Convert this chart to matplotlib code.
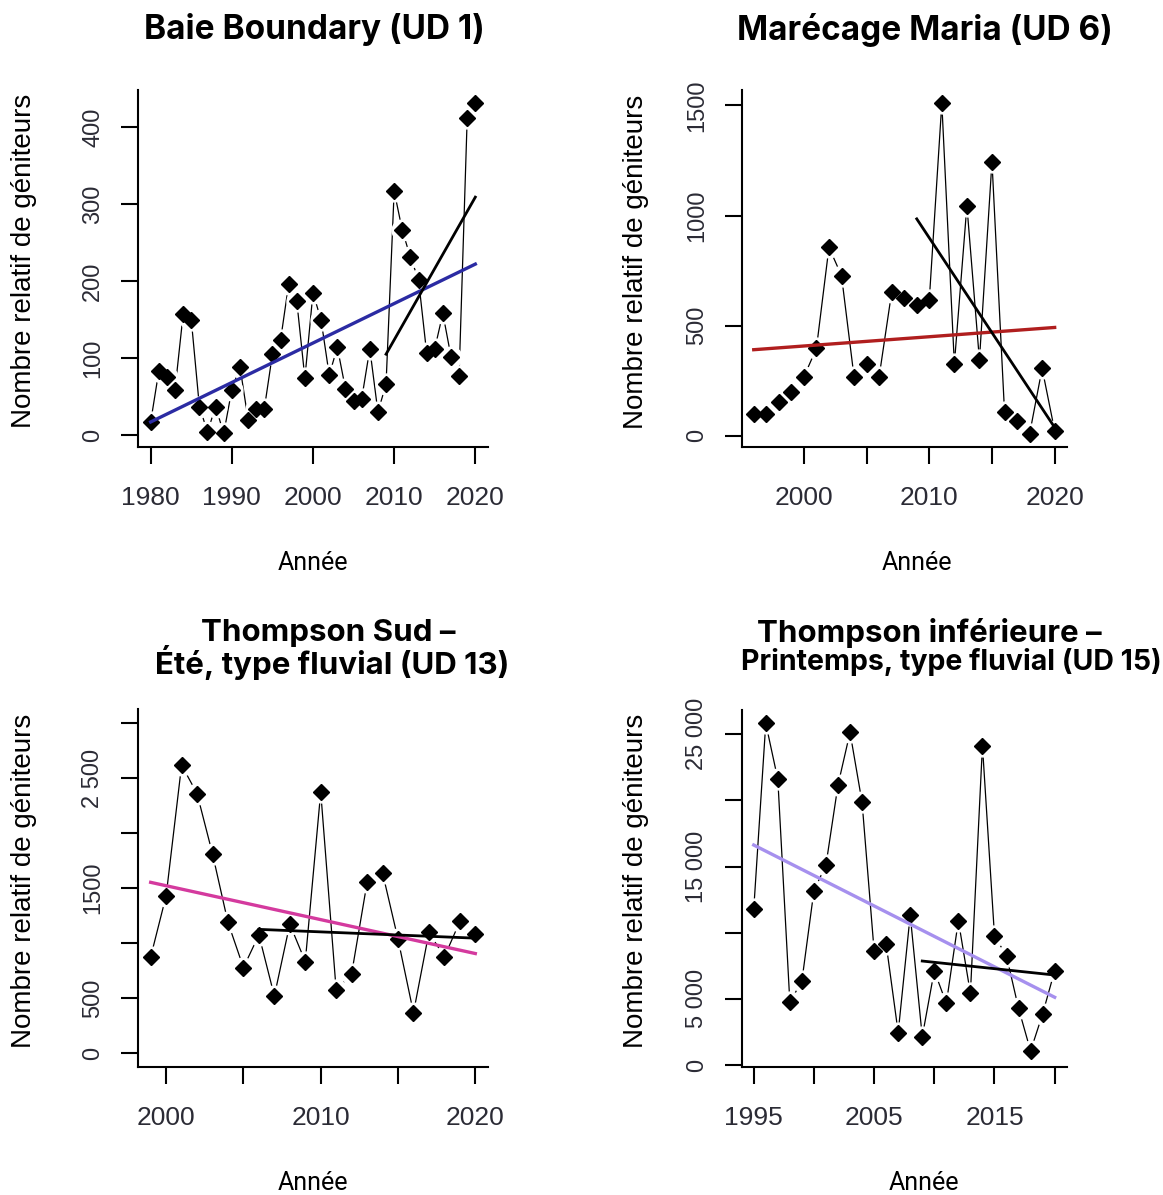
import matplotlib
matplotlib.use("Agg")
import matplotlib.pyplot as plt
import numpy as np

# Baie Boundary (UD 1)
years_ud1 = list(range(1980, 2021))
vals_ud1 = [17, 83, 76, 59, 157, 150, 37, 4, 37, 2, 59, 89, 20, 34, 34, 105, 123,
            196, 174, 74, 185, 149, 78, 114, 60, 44, 47, 112, 30, 66, 317, 266,
            231, 202, 107, 112, 158, 102, 77, 412, 431]
trend_ud1 = ([1980, 2020], [17, 222])
recent_ud1 = ([2009, 2020], [105, 309])

# Marécage Maria (UD 6)
years_ud6 = list(range(1996, 2021))
vals_ud6 = [98, 98, 155, 200, 268, 397, 856, 727, 268, 326, 268, 652, 624, 594,
            617, 1510, 326, 1045, 344, 1245, 110, 68, 8, 306, 23]
trend_ud6 = ([1996, 2020], [391, 492])
recent_ud6 = ([2009, 2020], [985, 38])

# Thompson Sud - Été (UD 13)
years_ud13 = list(range(1999, 2021))
vals_ud13 = [874, 1432, 2620, 2361, 1812, 1188, 777, 1075, 518, 1173, 832, 2376,
             570, 722, 1553, 1639, 1036, 366, 1097, 874, 1197, 1081]
trend_ud13 = ([1999, 2020], [1553, 905])
recent_ud13 = ([2006, 2020], [1125, 1045])

# Thompson inférieure - Printemps (UD 15)
years_ud15 = list(range(1995, 2021))
vals_ud15 = [11770, 25830, 21600, 4740, 6350, 13180, 15120, 21170, 25150, 19860,
             8640, 9150, 2450, 11340, 2140, 7130, 4660, 10910, 5420, 24140, 9780,
             8240, 4280, 1060, 3860, 7130]
trend_ud15 = ([1995, 2020], [16630, 5120])
recent_ud15 = ([2009, 2020], [7860, 6800])

W, H = 1163, 1195
fig = plt.figure(figsize=(W / 100, H / 100), dpi=100)

tick_font = ["Liberation Sans Narrow", "Liberation Sans"]
label_font = ["Liberation Sans", "DejaVu Sans"]
title_font = ["Inter", "DejaVu Sans"]
xlab_font = ["Roboto", "DejaVu Sans"]
tick_color = "#2b2b35"


def panel(rect, years, vals, trend, trend_color, recent, xticks, xlabels,
          yticks, ylabels, ylim=None, xlab_x=0.5):
    l, t, r, b = rect
    ax = fig.add_axes([l / W, 1 - b / H, (r - l) / W, (b - t) / H])
    ax.plot(years, vals, color="black", lw=0.9, zorder=2)
    ax.plot(years, vals, ls="none", marker="o", ms=15, mfc="white", mec="white", zorder=3)
    ax.plot(years, vals, ls="none", marker="D", ms=8.5, mfc="black", mec="black", zorder=4)
    ax.plot(trend[0], trend[1], color=trend_color, lw=2.4, zorder=5)
    ax.plot(recent[0], recent[1], color="black", lw=2.0, zorder=5)
    ax.margins(x=0.04, y=0.04)
    if ylim is not None:
        ax.set_ylim(*ylim)
    for s in ["top", "right"]:
        ax.spines[s].set_visible(False)
    for s in ["left", "bottom"]:
        ax.spines[s].set_linewidth(1.5)
    ax.set_xticks(xticks)
    ax.set_xticklabels(xlabels, family=tick_font, fontsize=19, color=tick_color)
    ax.set_yticks(yticks)
    ax.set_yticklabels(ylabels, family=tick_font, fontsize=17, color=tick_color,
                       rotation=90, va="center")
    ax.tick_params(axis="both", length=12, width=1.5)
    ax.tick_params(axis="x", pad=16)
    ax.tick_params(axis="y", pad=12)
    ax.set_xlabel("Année", family=xlab_font, fontsize=18)
    ax.xaxis.set_label_coords(xlab_x, -0.325)
    ax.xaxis.label.set_va("center")
    ax.set_ylabel("Nombre relatif de géniteurs", family=label_font, fontsize=20)
    ax.yaxis.set_label_coords(-0.324, 0.52)
    ax.yaxis.label.set_va("center")
    return ax


panel((137.7, 90, 488.3, 446.7), years_ud1, vals_ud1, trend_ud1, "#2b2ba3", recent_ud1,
      [1980, 1990, 2000, 2010, 2020], ["1980", "1990", "2000", "2010", "2020"],
      [0, 100, 200, 300, 400], ["0", "100", "200", "300", "400"])
panel((741.7, 90, 1066.7, 447.3), years_ud6, vals_ud6, trend_ud6, "#b01e1e", recent_ud6,
      [2000, 2005, 2010, 2015, 2020], ["2000", "", "2010", "", "2020"],
      [0, 500, 1000, 1500], ["0", "500", "1000", "1500"], xlab_x=0.54)
panel((137.7, 709.3, 488.3, 1066.7), years_ud13, vals_ud13, trend_ud13, "#d43a9e", recent_ud13,
      [2000, 2005, 2010, 2015, 2020], ["2000", "", "2010", "", "2020"],
      [0, 500, 1000, 1500, 2000, 2500, 3000],
      ["0", "500", "", "1500", "", "2 500", ""], ylim=(-125, 3128))
panel((741.7, 710, 1066.7, 1066.7), years_ud15, vals_ud15, trend_ud15, "#a690ee", recent_ud15,
      [1995, 2000, 2005, 2010, 2015, 2020], ["1995", "", "2005", "", "2015", ""],
      [0, 5000, 10000, 15000, 20000, 25000],
      ["0", "5 000", "", "15 000", "", "25 000"], ylim=(-130, 26840), xlab_x=0.56)

tkw = dict(family=title_font, fontweight="bold", ha="center", va="center")
fig.text(314 / W, 1 - 30 / H, "Baie Boundary (UD 1)", fontsize=24, **tkw)
fig.text(925 / W, 1 - 30 / H, "Marécage Maria (UD 6)", fontsize=24, **tkw)
fig.text(328 / W, 1 - 633 / H, "Thompson Sud –", fontsize=22.5, **tkw)
fig.text(332 / W, 1 - 662 / H, "Été, type fluvial (UD 13)", fontsize=22.5, **tkw)
fig.text(929 / W, 1 - 633 / H, "Thompson inférieure –", fontsize=22.5, **tkw)
fig.text(951 / W, 1 - 662 / H, "Printemps, type fluvial (UD 15)", fontsize=20.5, **tkw)

fig.savefig("out.png", dpi=100)
